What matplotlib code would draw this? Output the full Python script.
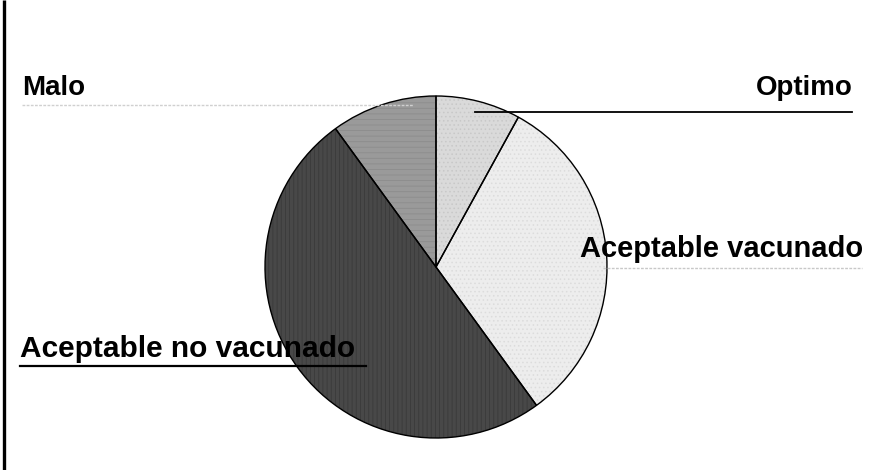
import matplotlib
matplotlib.use("Agg")
import matplotlib.pyplot as plt

plt.rcParams["hatch.linewidth"] = 0.6

# Data (percentages)
categories = ["Optimo", "Aceptable vacunado", "Aceptable no vacunado", "Malo"]
values = [8, 32, 50, 10]
colors = ["#dadada", "#ededed", "#484848", "#9a9a9a"]

W, H = 874, 470
fig = plt.figure(figsize=(W / 100, H / 100), dpi=100)
ax = fig.add_axes([0, 0, 1, 1])

def Y(py):
    return H - py

def setup():
    ax.set_xlim(0, W)
    ax.set_ylim(0, H)
    ax.set_aspect("equal")
    ax.axis("off")

cx, cy, r = 436, Y(267), 171
hatches = ["....", "....", "||||", "---"]
hcols = ["#c8c8c8", "#dcdcdc", "#3a3a3a", "#8c8c8c"]
wedges, _ = ax.pie(values, colors=colors, startangle=90, counterclock=False,
                   center=(cx, cy), radius=r, frame=True,
                   wedgeprops=dict(linewidth=0))
for w, h, hc in zip(wedges, hatches, hcols):
    w.set_hatch(h)
    w.set_edgecolor(hc)
    w.set_linewidth(0)
setup()
# outline on top
ax.pie(values, colors=["none"] * 4, startangle=90, counterclock=False,
       center=(cx, cy), radius=r, frame=True,
       wedgeprops=dict(edgecolor="black", linewidth=1.0, fill=False))
setup()

font = dict(family=["Liberation Sans", "DejaVu Sans"], fontweight="bold",
            color="black", va="baseline", zorder=10)

# Labels with leader lines
ax.text(22, Y(95), categories[3], ha="left", fontsize=20, **font)
ax.plot([22, 413], [Y(105), Y(105)], color="#d0d0d0", lw=1.0, ls=(0, (2, 1)), zorder=9)

ax.text(853, Y(95), categories[0], ha="right", fontsize=20, **font)
ax.plot([475, 852], [Y(112), Y(112)], color="black", lw=1.3, zorder=9)

ax.text(580, Y(257), categories[1], ha="left", fontsize=21, **font)
ax.plot([603, 862], [Y(268), Y(268)], color="#c8c8c8", lw=1.0, ls=(0, (2, 1)), zorder=9)

ax.text(20, Y(357), categories[2], ha="left", fontsize=21.5, **font)
ax.plot([20, 366], [Y(366), Y(366)], color="black", lw=1.6, zorder=9)

# left border
ax.plot([3.5, 3.5], [0, H], color="black", lw=2.4, zorder=10, solid_capstyle="butt")

fig.savefig("out.png", dpi=100, facecolor="white")
